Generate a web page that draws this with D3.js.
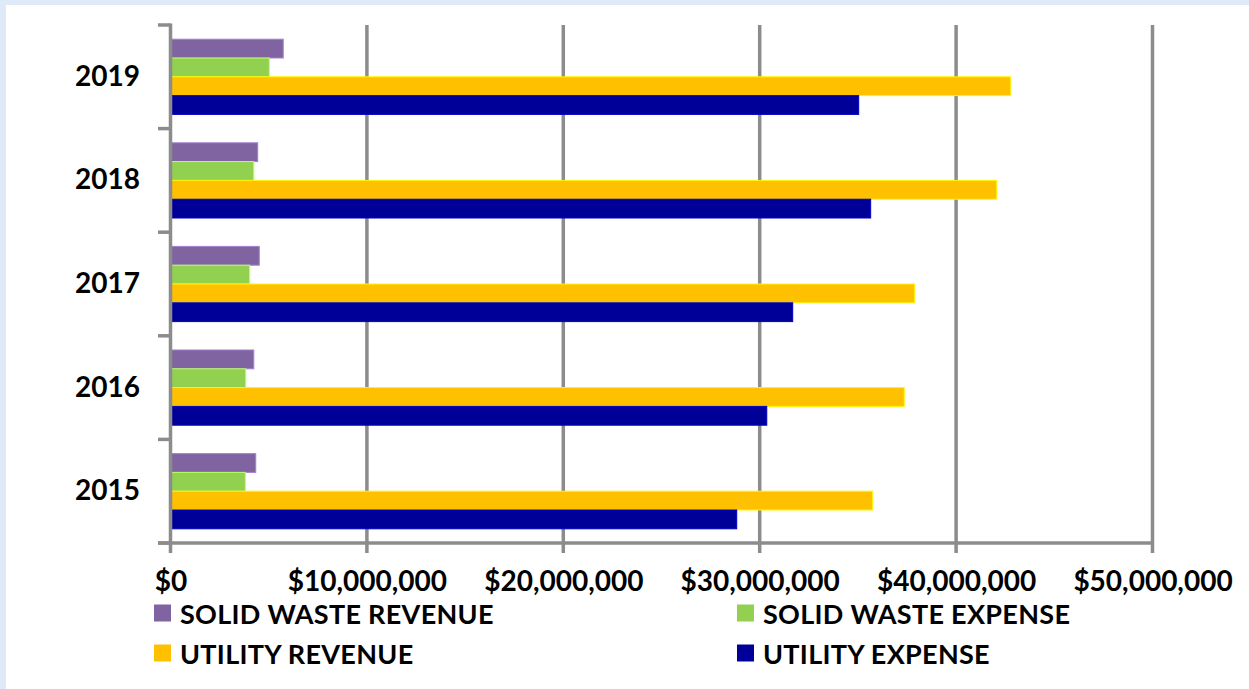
<!DOCTYPE html>
<html>
<head>
<meta charset="utf-8">
<script src="https://cdn.jsdelivr.net/npm/d3@7"></script>
<style>
html,body{margin:0;padding:0;background:#dfeaf9;}
svg{display:block;}
text{font-family:Lato, "Open Sans", sans-serif;font-weight:700;fill:#000;}
</style>
</head>
<body>
<svg id="chart" width="1249" height="689"></svg>
<script>
// ---- data (values in dollars) ----
const years = ["2019", "2018", "2017", "2016", "2015"];
const seriesNames = ["SOLID WASTE REVENUE", "SOLID WASTE EXPENSE", "UTILITY REVENUE", "UTILITY EXPENSE"];
const seriesColors = ["#8064a2", "#92d050", "#ffc000", "#000099"];
const solidWasteRevenue = [5740000, 4440000, 4520000, 4240000, 4340000];
const solidWasteExpense = [5030000, 4240000, 4030000, 3830000, 3810000];
const utilityRevenue   = [42780000, 42070000, 37890000, 37360000, 35750000];
const utilityExpense   = [35040000, 35650000, 31680000, 30360000, 28830000];
const xTicks = [0, 10000000, 20000000, 30000000, 40000000, 50000000];

const seriesValues = [solidWasteRevenue, solidWasteExpense, utilityRevenue, utilityExpense];

const svg = d3.select("#chart");
// panel background
svg.append("rect").attr("x", 0).attr("y", 0).attr("width", 1249).attr("height", 689).attr("fill", "#dfeaf9");
svg.append("rect").attr("x", 6).attr("y", 5).attr("width", 1243).attr("height", 684).attr("fill", "#ffffff");

const plotTop = 25, plotBottom = 543, plotLeft = 170.5, plotRight = 1152.5;
const grid = "#8c8c8c";

const x = d3.scaleLinear().domain([0, 50000000]).range([plotLeft, plotRight]);
const yCat = d3.scaleBand().domain(years).range([plotTop, plotBottom]).padding(0);
const ySer = d3.scaleBand().domain(d3.range(seriesNames.length)).range([0, yCat.bandwidth()])
  .paddingInner(0).paddingOuter(0.755);

// gridlines (vertical), extending below axis as tick marks
svg.append("g").selectAll("line").data(xTicks.slice(1)).join("line")
  .attr("x1", d => x(d)).attr("x2", d => x(d))
  .attr("y1", plotTop).attr("y2", plotBottom + 10)
  .attr("stroke", grid).attr("stroke-width", 3.5);

// category boundary ticks on the y axis
const bounds = years.map(d => yCat(d)).concat([yCat(years[years.length - 1]) + yCat.step()]);
svg.append("g").selectAll("line").data(bounds).join("line")
  .attr("x1", plotLeft - 12.5).attr("x2", plotLeft)
  .attr("y1", d => d).attr("y2", d => d)
  .attr("stroke", grid).attr("stroke-width", 3.5);

// bars
const rows = [];
years.forEach((yr, i) => seriesValues.forEach((arr, s) => rows.push({yr, s, v: arr[i]})));
svg.append("g").selectAll("rect").data(rows).join("rect")
  .attr("x", x(0) + 1)
  .attr("y", d => yCat(d.yr) + ySer(d.s))
  .attr("width", d => x(d.v) - x(0) - 1)
  .attr("height", ySer.bandwidth())
  .attr("fill", d => seriesColors[d.s])
  .attr("stroke", d => d3.color(seriesColors[d.s]).brighter(0.7))
  .attr("stroke-width", 1);

// y axis line
svg.append("line").attr("x1", plotLeft).attr("x2", plotLeft)
  .attr("y1", plotTop - 1.5).attr("y2", plotBottom + 10)
  .attr("stroke", grid).attr("stroke-width", 3.5);
// x axis line
svg.append("line").attr("x1", plotLeft - 12.5).attr("x2", plotRight)
  .attr("y1", plotBottom).attr("y2", plotBottom)
  .attr("stroke", grid).attr("stroke-width", 3.5);

// x axis labels
const xAxis = d3.axisBottom(x).tickValues(xTicks).tickFormat(d3.format("$,")).tickSize(0).tickPadding(0);
const gx = svg.append("g").attr("transform", `translate(0,${plotBottom})`).call(xAxis);
gx.select(".domain").remove();
gx.selectAll("text").attr("y", 48).attr("dy", null).style("font-size", "28px")
  .attr("font-family", "Lato").attr("fill", "#000");

// year labels
svg.append("g").selectAll("text").data(years).join("text")
  .attr("x", 140).attr("y", d => yCat(d) + yCat.bandwidth() / 2 - 2)
  .attr("text-anchor", "end").attr("dominant-baseline", "central")
  .style("font-size", "28px").text(d => d);

// legend
const legendPos = [[154, 613], [737, 613], [154, 653], [737, 653]];
const lg = svg.append("g").selectAll("g").data(seriesNames).join("g")
  .attr("transform", (d, i) => `translate(${legendPos[i][0]},${legendPos[i][1]})`);
lg.append("rect").attr("x", 0).attr("y", -8.5).attr("width", 17).attr("height", 17)
  .attr("fill", (d, i) => seriesColors[i]);
lg.append("text").attr("x", 26).attr("y", 0).attr("dominant-baseline", "central")
  .style("font-size", "27px").style("letter-spacing", "0.3px").text(d => d);
</script>
</body>
</html>
